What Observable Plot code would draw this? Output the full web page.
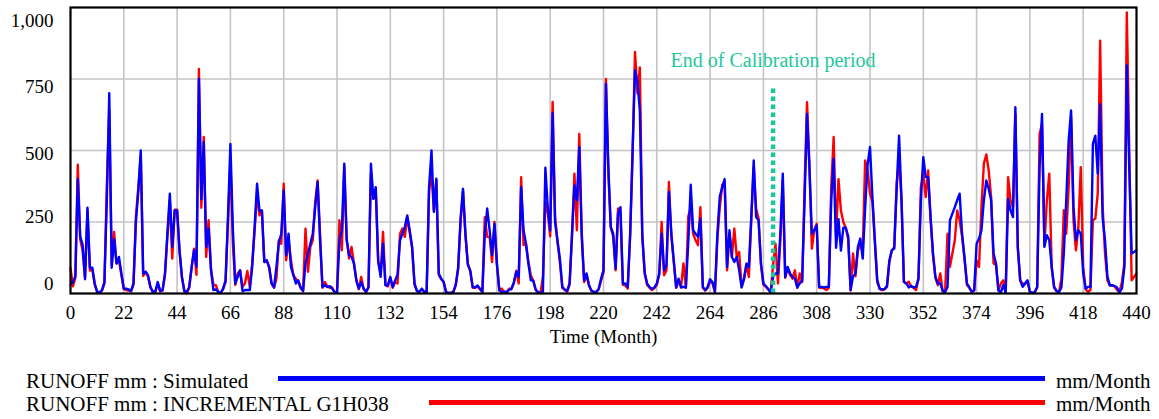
<!DOCTYPE html>
<html>
<head>
<meta charset="utf-8">
<script src="https://cdn.jsdelivr.net/npm/d3@7"></script>
<script src="https://cdn.jsdelivr.net/npm/@observablehq/plot@0.6"></script>
<style>
  html, body { margin: 0; padding: 0; background: #fff; overflow: hidden; }
  #wrap { position: relative; width: 1159px; height: 419px; font-family: "Liberation Serif", "Times New Roman", serif; color: #000; }
  #chart { position: absolute; left: 0; top: 0; }
  .lg { position: absolute; left: 0; width: 1159px; height: 24px; font-size: 21px; font-family: "Liberation Serif", "Times New Roman", serif; }
  .lg .t { position: absolute; left: 26px; top: 0; line-height: 24px; white-space: pre; }
  .lg .u { position: absolute; left: 1056px; top: 0; line-height: 24px; }
  .lg .ln { position: absolute; height: 5px; }
</style>
</head>
<body>
<div id="wrap">
  <div id="chart"></div>
  <div id="legend"></div>
</div>
<script>
// ---------- data ----------
const simulated = [
  30, 40, 60, 400, 200, 170, 50, 300, 90, 90,
  35, 6, 4, 12, 40, 330, 700, 90, 190, 105,
  128, 70, 17, 17, 14, 9, 35, 250, 360, 500,
  70, 76, 64, 23, 6, 6, 40, 9, 12, 70,
  210, 349, 163, 290, 290, 151, 58, 9, 5, 23,
  93, 151, 93, 750, 330, 529, 163, 227, 81, 12,
  14, 6, 2, 17, 46, 267, 523, 230, 35, 58,
  81, 8, 12, 12, 12, 93, 233, 384, 290, 290,
  110, 116, 93, 35, 21, 93, 180, 209, 360, 134,
  209, 93, 64, 35, 46, 21, 9, 105, 140, 174,
  209, 302, 390, 186, 23, 29, 23, 26, 17, 5,
  2, 186, 221, 454, 186, 134, 128, 105, 46, 17,
  40, 17, 6, 23, 454, 331, 372, 116, 58, 174,
  29, 29, 58, 23, 46, 67, 186, 209, 233, 273,
  221, 163, 35, 9, 6, 17, 6, 6, 372, 500,
  285, 401, 70, 52, 41, 5, 2, 2, 5, 30,
  90, 260, 366, 210, 100, 80, 23, 21, 28, 17,
  6, 209, 297, 221, 134, 244, 105, 12, 5, 6,
  5, 12, 17, 40, 76, 58, 372, 221, 174, 105,
  46, 46, 14, 5, 2, 6, 440, 300, 220, 630,
  250, 186, 122, 23, 14, 9, 35, 209, 378, 326,
  512, 200, 46, 70, 30, 10, 5, 5, 16, 52,
  81, 733, 442, 233, 209, 87, 279, 302, 35, 35,
  23, 209, 500, 780, 740, 640, 200, 70, 35, 23,
  16, 21, 35, 70, 209, 81, 99, 355, 209, 116,
  21, 52, 21, 23, 21, 180, 380, 221, 209, 198,
  262, 23, 12, 23, 50, 40, 6, 209, 340, 370,
  400, 93, 221, 128, 110, 128, 81, 21, 52, 105,
  93, 267, 465, 267, 256, 105, 35, 26, 16, 5,
  60, 70, 70, 209, 419, 58, 93, 70, 58, 52,
  21, 35, 46, 326, 628, 440, 209, 221, 238, 23,
  23, 21, 23, 23, 326, 471, 160, 260, 150, 230,
  230, 200, 12, 60, 70, 163, 192, 122, 300, 450,
  512, 337, 186, 46, 17, 14, 16, 26, 116, 151,
  157, 366, 552, 330, 41, 35, 21, 26, 21, 23,
  52, 326, 477, 407, 407, 267, 140, 58, 35, 35,
  9, 5, 23, 256, 279, 302, 326, 349, 209, 128,
  35, 21, 6, 12, 174, 192, 221, 326, 395, 366,
  326, 140, 105, 12, 3, 29, 3, 331, 291, 267,
  651, 163, 46, 23, 35, 46, 6, 2, 5, 23,
  442, 628, 163, 204, 186, 93, 23, 9, 5, 21,
  140, 326, 535, 640, 302, 186, 221, 209, 70, 17,
  23, 23, 523, 552, 419, 663, 267, 186, 58, 29,
  29, 26, 21, 5, 17, 93, 797, 442, 140, 145,
  151
];
const observed = [
  90, 25, 55, 450, 190, 150, 55, 290, 80, 85,
  30, 5, 3, 10, 35, 380, 640, 100, 215, 105,
  116, 65, 15, 12, 10, 8, 30, 270, 372, 483,
  62, 76, 58, 20, 5, 5, 35, 8, 10, 65,
  200, 325, 122, 293, 293, 150, 55, 6, 0, 20,
  90, 157, 65, 785, 300, 547, 128, 256, 85, 29,
  29, 5, 2, 15, 40, 250, 465, 180, 30, 70,
  80, 23, 35, 79, 23, 105, 221, 349, 273, 290,
  110, 116, 90, 35, 20, 52, 186, 174, 384, 116,
  186, 116, 64, 52, 40, 20, 8, 227, 76, 163,
  186, 320, 395, 210, 20, 40, 25, 20, 21, 4,
  2, 256, 151, 442, 190, 122, 163, 105, 45, 15,
  58, 15, 5, 20, 419, 331, 360, 110, 70, 215,
  30, 25, 55, 20, 40, 35, 209, 227, 198, 265,
  215, 160, 30, 8, 5, 15, 5, 5, 360, 419,
  290, 395, 65, 50, 40, 5, 2, 2, 6, 28,
  85, 250, 360, 205, 105, 79, 20, 20, 25, 15,
  5, 267, 198, 198, 110, 250, 100, 10, 17, 5,
  5, 17, 15, 35, 80, 35, 407, 169, 174, 110,
  64, 45, 12, 4, 2, 60, 320, 280, 200, 670,
  270, 180, 110, 20, 12, 6, 30, 200, 419, 221,
  558, 220, 40, 65, 28, 10, 4, 4, 15, 45,
  75, 750, 420, 230, 200, 81, 297, 280, 30, 29,
  17, 200, 480, 845, 700, 790, 210, 75, 30, 20,
  12, 18, 30, 65, 250, 64, 81, 390, 200, 110,
  20, 45, 23, 105, 20, 270, 300, 209, 186, 169,
  302, 20, 10, 20, 45, 35, 5, 190, 300, 380,
  390, 81, 209, 128, 227, 128, 145, 23, 50, 100,
  58, 260, 442, 297, 262, 100, 30, 23, 14, 3,
  100, 174, 35, 186, 395, 55, 90, 65, 52, 81,
  20, 70, 40, 372, 669, 450, 157, 221, 244, 20,
  20, 18, 12, 20, 372, 547, 200, 400, 290, 250,
  230, 190, 10, 140, 60, 150, 170, 150, 465, 430,
  350, 320, 180, 40, 15, 12, 14, 23, 110, 150,
  163, 384, 470, 330, 40, 35, 41, 25, 20, 12,
  50, 372, 419, 337, 430, 260, 135, 55, 29, 70,
  8, 4, 209, 93, 140, 186, 290, 256, 200, 120,
  30, 20, 5, 10, 116, 93, 302, 454, 486, 430,
  337, 105, 100, 10, 35, 46, 3, 407, 326, 300,
  628, 160, 45, 35, 33, 44, 5, 2, 4, 20,
  558, 593, 170, 326, 419, 90, 20, 8, 4, 52,
  291, 209, 372, 616, 255, 151, 230, 442, 93, 15,
  6, 12, 256, 262, 349, 884, 310, 140, 46, 28,
  28, 24, 12, 5, 41, 105, 983, 500, 46, 58,
  70
];
const xTicks = [0, 22, 44, 66, 88, 110, 132, 154, 176, 198, 220, 242, 264, 286, 308, 330, 352, 374, 396, 418, 440];
const yTicks = [0, 250, 500, 750, 1000];
const xLabel = "Time (Month)";
const seriesNames = ["RUNOFF mm : Simulated", "RUNOFF mm : INCREMENTAL G1H038"];
const unitLabel = "mm/Month";
const calibrationEnd = [290];
const calibrationTop = 727;
const calibrationLabel = ["End of Calibration period"];
const calibrationLabelValue = 814;

// ---------- styling ----------
const BLUE = "#0000ff", RED = "#ff0000", GREEN = "#1dc99b", GRID = "#c4c4c4";
const SERIF = "'Liberation Serif', 'Times New Roman', serif";
const yLabelShift = [-10, -5, 3, 8, 13];

const months = simulated.map((_, i) => i);
const rows = months.map(i => ({month: i, sim: simulated[i], obs: observed[i]}));

const chart = Plot.plot({
  width: 1159,
  height: 352,
  marginLeft: 70,
  marginRight: 23,
  marginTop: 7,
  marginBottom: 59,
  x: {domain: [0, 440]},
  y: {domain: [0, 1000]},
  style: {fontFamily: SERIF, fontSize: "19px", color: "#000", background: "#fff"},
  marks: [
    Plot.gridX(xTicks.slice(1, -1), {stroke: GRID, strokeOpacity: 1, strokeWidth: 1.6}),
    Plot.gridY(yTicks.slice(1, -1), {stroke: GRID, strokeOpacity: 1, strokeWidth: 1.6}),
    Plot.line(rows, {x: "month", y: "obs", stroke: RED, strokeWidth: 2.4}),
    Plot.line(rows, {x: "month", y: "sim", stroke: BLUE, strokeWidth: 2.4}),
    Plot.ruleX(calibrationEnd, {y1: 0, y2: calibrationTop, stroke: GREEN, strokeWidth: 4.5, strokeDasharray: "4.5,3.5"}),
    Plot.text(calibrationLabel, {x: calibrationEnd[0], y: calibrationLabelValue, text: d => d, fill: GREEN, fontSize: 20, fontFamily: SERIF, textAnchor: "middle"}),
    Plot.frame({stroke: "#000", strokeWidth: 2.2}),
    Plot.axisX(xTicks, {tickSize: 0, tickPadding: 12, fontFamily: SERIF, label: xLabel, labelAnchor: "center", labelArrow: "none", labelOffset: 49}),
    ...yTicks.map((t, k) => Plot.axisY([t], {tickSize: 0, tickPadding: 17, dy: yLabelShift[k], fontFamily: SERIF, tickFormat: d3.format(","), label: null}))
  ]
});
document.getElementById("chart").appendChild(chart);

// ---------- legend ----------
const legendRows = [
  {name: seriesNames[0], color: BLUE, top: 369, lineFrom: 278, lineTo: 1045, lineDy: 7},
  {name: seriesNames[1], color: RED, top: 392, lineFrom: 429, lineTo: 1045, lineDy: 8}
];
const legend = document.getElementById("legend");
for (const r of legendRows) {
  const row = document.createElement("div");
  row.className = "lg";
  row.style.top = r.top + "px";
  const t = document.createElement("span"); t.className = "t"; t.textContent = r.name;
  const ln = document.createElement("div"); ln.className = "ln";
  ln.style.left = r.lineFrom + "px"; ln.style.width = (r.lineTo - r.lineFrom) + "px";
  ln.style.top = r.lineDy + "px"; ln.style.background = r.color;
  const u = document.createElement("span"); u.className = "u"; u.textContent = unitLabel;
  row.append(t, ln, u);
  legend.appendChild(row);
}
</script>
</body>
</html>
